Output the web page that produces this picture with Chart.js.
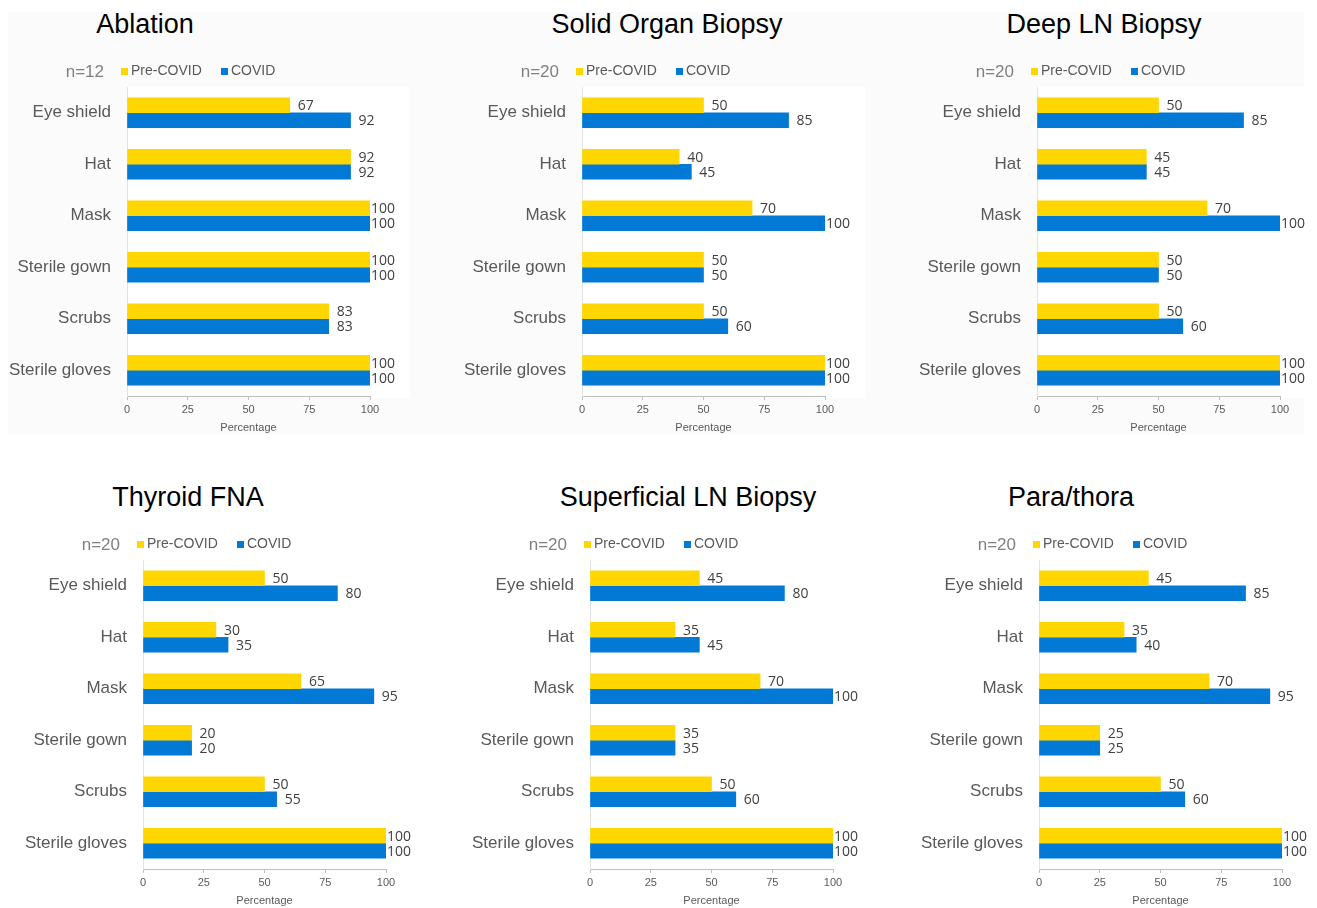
<!DOCTYPE html>
<html>
<head>
<meta charset="utf-8">
<script src="https://cdn.jsdelivr.net/npm/chart.js@4.4.0/dist/chart.umd.min.js"></script>
<style>
  body { margin: 0; width: 1317px; height: 908px; background: #fff; position: relative; overflow: hidden; font-family: "Liberation Sans", Arial, sans-serif; }
  #panel { position: absolute; left: 8px; top: 12px; width: 1296px; height: 423px; background: #fbfbfb; }
  canvas { position: absolute; }
  .ttl { position: absolute; font-size: 27px; color: #000; white-space: nowrap; transform: translate(-50%, -50%); }
</style>
</head>
<body>
<div id="panel"></div>

<script>
// Data
const categories = ["Eye shield", "Hat", "Mask", "Sterile gown", "Scrubs", "Sterile gloves"];
const seriesNames = ["Pre-COVID", "COVID"];
const xTicks = [0, 25, 50, 75, 100];

const chartTitles = ["Ablation", "Solid Organ Biopsy", "Deep LN Biopsy", "Thyroid FNA", "Superficial LN Biopsy", "Para/thora"];
const sampleSizes = [12, 20, 20, 20, 20, 20];

const preCovid = [
    [67, 92, 100, 100, 83, 100],
    [50, 40, 70, 50, 50, 100],
    [50, 45, 70, 50, 50, 100],
    [50, 30, 65, 20, 50, 100],
    [45, 35, 70, 35, 50, 100],
    [45, 35, 70, 25, 50, 100]
];
const covid = [
    [92, 92, 100, 100, 83, 100],
    [85, 45, 100, 50, 60, 100],
    [85, 45, 100, 50, 60, 100],
    [80, 35, 95, 20, 55, 100],
    [80, 45, 100, 35, 60, 100],
    [85, 40, 95, 25, 60, 100]
];

// Layout (page pixels)
const plotLefts = [127, 582, 1037, 143, 590, 1039];
const rowTops = [55, 55, 55, 528, 528, 528];
const titlePos = [[145, 24], [667, 24], [1104, 24], [188, 497], [688, 497], [1071, 497]];

const YELLOW = '#FFD600';
const BLUE = '#0379D6';
const LABEL_W = 127, PLOT_W = 243, PAD_R = 50, CANVAS_H = 386;

// white plot area on the shaded top row
const plotBg = {
    id: 'plotBg',
    beforeDraw(chart, args, opts) {
        if (!opts.on) return;
        const a = chart.chartArea;
        const ctx = chart.ctx;
        ctx.save();
        ctx.fillStyle = '#ffffff';
        ctx.fillRect(a.left, a.top, a.right - a.left + 40, a.bottom - a.top + 2);
        ctx.restore();
    }
};

// legend row: "n=.." + two swatches
const legendRow = {
    id: 'legendRow',
    afterDraw(chart, args, opts) {
        const ctx = chart.ctx;
        const x0 = chart.chartArea.left - 6;
        const y = 16;
        ctx.save();
        ctx.textBaseline = 'middle';
        ctx.font = '17px "Liberation Sans", Arial, sans-serif';
        ctx.fillStyle = '#808080';
        ctx.textAlign = 'right';
        ctx.fillText('n=' + opts.n, x0 - 17, y + 1);
        ctx.font = '14px "Liberation Sans", Arial, sans-serif';
        ctx.textAlign = 'left';
        [YELLOW, BLUE].forEach((c, i) => {
            const bx = x0 + i * 100;
            ctx.fillStyle = c;
            ctx.fillRect(bx, y - 3, 7, 7);
            ctx.fillStyle = '#595959';
            ctx.fillText(seriesNames[i], bx + 10, y);
        });
        ctx.restore();
    }
};

// value labels at bar ends
const barLabels = {
    id: 'barLabels',
    afterDatasetsDraw(chart) {
        const ctx = chart.ctx;
        const right = chart.chartArea.right;
        ctx.save();
        ctx.font = '14px "Open Sans", sans-serif';
        ctx.fillStyle = '#404040';
        ctx.textBaseline = 'middle';
        ctx.textAlign = 'left';
        chart.data.datasets.forEach((ds, di) => {
            chart.getDatasetMeta(di).data.forEach((bar, i) => {
                const txt = String(ds.data[i]);
                const w = ctx.measureText(txt).width;
                const tx = Math.min(bar.x + 8, right + 25 - w);
                ctx.fillText(txt, tx, bar.y + 1);
            });
        });
        ctx.restore();
    }
};

chartTitles.forEach((name, k) => {
    const t = document.createElement('div');
    t.className = 'ttl';
    t.textContent = name;
    t.style.left = titlePos[k][0] + 'px';
    t.style.top = titlePos[k][1] + 'px';
    document.body.appendChild(t);

    const cv = document.createElement('canvas');
    cv.width = LABEL_W + PLOT_W + PAD_R;
    cv.height = CANVAS_H;
    cv.style.left = (plotLefts[k] - LABEL_W) + 'px';
    cv.style.top = rowTops[k] + 'px';
    document.body.appendChild(cv);

    new Chart(cv, {
        type: 'bar',
        data: {
            labels: categories,
            datasets: [{
                label: seriesNames[0],
                data: preCovid[k],
                backgroundColor: YELLOW,
                barThickness: 15
            }, {
                label: seriesNames[1],
                data: covid[k],
                backgroundColor: BLUE,
                barThickness: 15
            }]
        },
        options: {
            indexAxis: 'y',
            responsive: false,
            animation: false,
            layout: { padding: { top: 32, right: PAD_R, left: 0, bottom: 0 } },
            scales: {
                x: {
                    min: 0,
                    max: 100,
                    afterBuildTicks: s => { s.ticks = xTicks.map(v => ({ value: v })); },
                    afterFit: s => { s.height = 45; },
                    grid: { drawOnChartArea: false, drawTicks: true, tickLength: 4, color: '#bfbfbf' },
                    border: { color: '#bfbfbf' },
                    ticks: { padding: 3, color: '#595959', font: { size: 11, family: '"Liberation Sans", Arial, sans-serif' } },
                    title: {
                        display: true,
                        text: 'Percentage',
                        color: '#595959',
                        font: { size: 11, family: '"Liberation Sans", Arial, sans-serif' },
                        padding: { top: 0, bottom: 6 }
                    }
                },
                y: {
                    afterFit: s => { s.width = LABEL_W; },
                    grid: { display: false },
                    border: { display: true, color: '#e3e3e3' },
                    ticks: { padding: 8, color: '#595959', font: { size: 17, family: '"Liberation Sans", Arial, sans-serif' } }
                }
            },
            plugins: {
                legend: { display: false },
                tooltip: { enabled: false },
                plotBg: { on: k < 3 },
                legendRow: { n: sampleSizes[k] }
            }
        },
        plugins: [plotBg, legendRow, barLabels]
    });
});
</script>
</body>
</html>
